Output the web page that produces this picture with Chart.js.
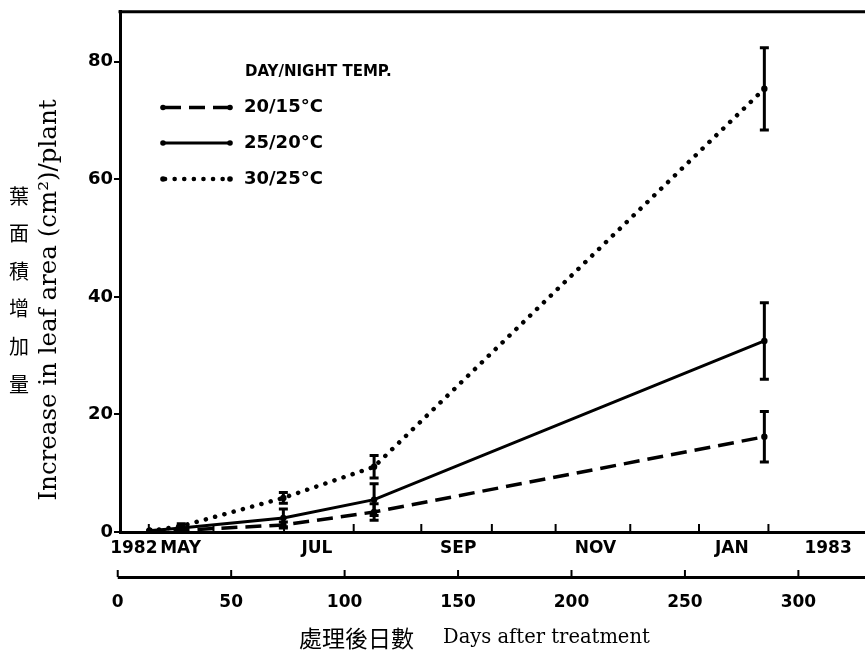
<!DOCTYPE html>
<html>
<head>
<meta charset="utf-8">
<script src="https://cdn.jsdelivr.net/npm/chart.js@4.4.0/dist/chart.umd.min.js"></script>
<style>
  html, body { margin: 0; padding: 0; background: #fff; }
</style>
</head>
<body>
<canvas id="chart" width="865" height="660"></canvas>
<script>
// days after treatment for each sampling
const days = [14, 28, 73, 113, 285];

// increase in leaf area (cm2/plant) and error bars
const t2015 = [0.2, 0.3, 1.2, 3.4, 16.2];
const t2520 = [0.2, 0.7, 2.4, 5.5, 32.5];
const t3025 = [0.2, 1.0, 5.8, 11.1, 75.4];
const err2015 = [0, 0.3, 0.5, 1.4, 4.3];
const err2520 = [0, 0.4, 1.5, 2.7, 6.5];
const err3025 = [0, 0.4, 0.9, 1.9, 7.0];

const seriesNames = ['20/15°C', '25/20°C', '30/25°C'];

// calendar axis (month boundaries and labels, in days after treatment)
const monthTickDays = [13.7, 42.2, 73.3, 104.0, 133.8, 164.9, 193.0, 225.9, 256.2, 286.8];
const monthLabelDays = [7.1, 27.7, 87.8, 150.1, 210.6, 270.7, 313.1];
const monthLabels = ['1982', 'MAY', 'JUL', 'SEP', 'NOV', 'JAN', '1983'];

const dayTicks = [0, 50, 100, 150, 200, 250, 300];
const yTicks = [0, 20, 40, 60, 80];

const yTitleJa = '葉面積增加量';
const yTitleEn = 'Increase in leaf area (cm²)/plant';
const xTitleJa = '處理後日數';
const xTitleEn = 'Days after treatment';
const legendTitle = 'DAY/NIGHT TEMP.';

const pts = (ys) => days.map((d, i) => ({ x: d, y: ys[i] }));

const sansBold = '"DejaVu Sans", sans-serif';

const errorBars = {
  id: 'errorBars',
  afterDatasetsDraw(chart) {
    const ctx = chart.ctx, ys = chart.scales.y;
    ctx.save();
    ctx.strokeStyle = '#000';
    ctx.lineWidth = 3;
    chart.data.datasets.forEach((ds, i) => {
      const meta = chart.getDatasetMeta(i);
      ds.err.forEach((e, j) => {
        if (!e) return;
        const px = meta.data[j].x;
        const v = ds.data[j].y;
        const top = ys.getPixelForValue(v + e);
        const bot = ys.getPixelForValue(v - e);
        ctx.beginPath();
        ctx.moveTo(px, top); ctx.lineTo(px, bot);
        ctx.moveTo(px - 4.5, top); ctx.lineTo(px + 4.5, top);
        ctx.moveTo(px - 4.5, bot); ctx.lineTo(px + 4.5, bot);
        ctx.stroke();
      });
    });
    ctx.restore();
  }
};

const decorations = {
  id: 'decorations',
  afterDraw(chart) {
    const ctx = chart.ctx, area = chart.chartArea;
    const xm = chart.scales.xm, xd = chart.scales.x;
    ctx.save();
    ctx.strokeStyle = '#000';
    ctx.fillStyle = '#000';

    // top frame line, and axis lines carried to the right edge
    ctx.lineWidth = 3;
    ctx.beginPath();
    ctx.moveTo(area.left - 1.5, area.top);
    ctx.lineTo(chart.width, area.top);
    ctx.moveTo(area.right - 2, xm.top + 0.5);
    ctx.lineTo(chart.width, xm.top + 0.5);
    ctx.moveTo(area.right - 2, xd.top + 0.5);
    ctx.lineTo(chart.width, xd.top + 0.5);
    ctx.stroke();

    // inward ticks on both horizontal axes
    ctx.lineWidth = 2;
    monthTickDays.forEach(d => {
      const px = xm.getPixelForValue(d);
      ctx.beginPath(); ctx.moveTo(px, xm.top); ctx.lineTo(px, xm.top - 8); ctx.stroke();
    });
    dayTicks.forEach(d => {
      const px = xd.getPixelForValue(d);
      ctx.beginPath(); ctx.moveTo(px, xd.top); ctx.lineTo(px, xd.top - 7); ctx.stroke();
    });
    // days axis line reaches day 0
    ctx.lineWidth = 3;
    ctx.beginPath();
    ctx.moveTo(xd.getPixelForValue(0), xd.top + 0.5);
    ctx.lineTo(area.left, xd.top + 0.5);
    ctx.stroke();

    // y titles
    ctx.textAlign = 'center';
    ctx.textBaseline = 'middle';
    ctx.font = '20px "Noto Sans CJK TC"';
    [...yTitleJa].forEach((c, i) => ctx.fillText(c, 19, 196 + i * 37.6));
    ctx.save();
    ctx.translate(50, 300);
    ctx.rotate(-Math.PI / 2);
    ctx.font = '24.5px "DejaVu Serif"';
    ctx.fillText(yTitleEn, 0, 0);
    ctx.restore();

    // x title
    ctx.textAlign = 'left';
    ctx.font = '23px "Noto Sans CJK TC"';
    ctx.fillText(xTitleJa, 299, 638);
    ctx.font = '19.5px "DejaVu Serif"';
    ctx.fillText(xTitleEn, 443, 638);

    // legend
    ctx.font = 'bold 15px ' + sansBold;
    ctx.fillText(legendTitle, 245, 72);
    const rows = [107.5, 143, 179];
    chart.data.datasets.forEach((ds, i) => {
      const y = rows[i];
      ctx.save();
      ctx.lineWidth = ds.borderWidth;
      ctx.lineCap = ds.borderCapStyle || 'butt';
      ctx.setLineDash(ds.borderDash || []);
      ctx.beginPath(); ctx.moveTo(165, y); ctx.lineTo(229, y); ctx.stroke();
      ctx.restore();
      [163, 230].forEach(px => { ctx.beginPath(); ctx.arc(px, y, 2.8, 0, Math.PI * 2); ctx.fill(); });
      ctx.font = 'bold 18px ' + sansBold;
      ctx.fillText(ds.label, 244, y);
    });
    ctx.restore();
  }
};

const lineStyle = {
  borderColor: '#000',
  backgroundColor: '#000',
  pointBackgroundColor: '#000',
  pointBorderWidth: 0,
  pointRadius: 3.2,
  tension: 0,
  fill: false
};

new Chart(document.getElementById('chart').getContext('2d'), {
  type: 'line',
  data: {
    datasets: [
      { ...lineStyle, label: seriesNames[0], data: pts(t2015), err: err2015, borderWidth: 3.5, borderDash: [16, 8] },
      { ...lineStyle, label: seriesNames[1], data: pts(t2520), err: err2520, borderWidth: 3 },
      { ...lineStyle, label: seriesNames[2], data: pts(t3025), err: err3025, borderWidth: 4.5, borderDash: [0.1, 9.5], borderCapStyle: 'round' }
    ]
  },
  options: {
    responsive: false,
    animation: false,
    layout: { padding: { top: 10, right: 0, left: 0, bottom: 0 } },
    plugins: { legend: { display: false }, tooltip: { enabled: false } },
    scales: {
      x: {
        type: 'linear', position: 'bottom', weight: 1,
        min: 1, max: 327.6,
        afterBuildTicks: s => { s.ticks = dayTicks.map(v => ({ value: v })); },
        afterFit: s => { s.height = 83; },
        grid: { display: false },
        border: { display: true, color: '#000', width: 3 },
        ticks: { color: '#000', font: { family: sansBold, size: 17, weight: 'bold' }, padding: 7, autoSkip: false, maxRotation: 0 }
      },
      xm: {
        axis: 'x', type: 'linear', position: 'bottom', weight: 0,
        min: 1, max: 327.6,
        afterBuildTicks: s => { s.ticks = monthLabelDays.map(v => ({ value: v })); },
        afterFit: s => { s.height = 45; },
        grid: { display: false },
        border: { display: true, color: '#000', width: 3 },
        ticks: { color: '#000', font: { family: sansBold, size: 17, weight: 'bold' }, padding: -2, autoSkip: false, maxRotation: 0,
          callback: (v, i) => monthLabels[i] }
      },
      y: {
        type: 'linear', min: 0, max: 88.5,
        afterBuildTicks: s => { s.ticks = yTicks.map(v => ({ value: v })); },
        afterFit: s => { s.width = 120; },
        grid: { display: true, drawOnChartArea: false, drawTicks: true, tickLength: 6, color: '#000', lineWidth: 2 },
        border: { display: true, color: '#000', width: 3 },
        ticks: { color: '#000', font: { family: sansBold, size: 18, weight: 'bold' }, padding: 1 }
      }
    }
  },
  plugins: [errorBars, decorations]
});
</script>
</body>
</html>
